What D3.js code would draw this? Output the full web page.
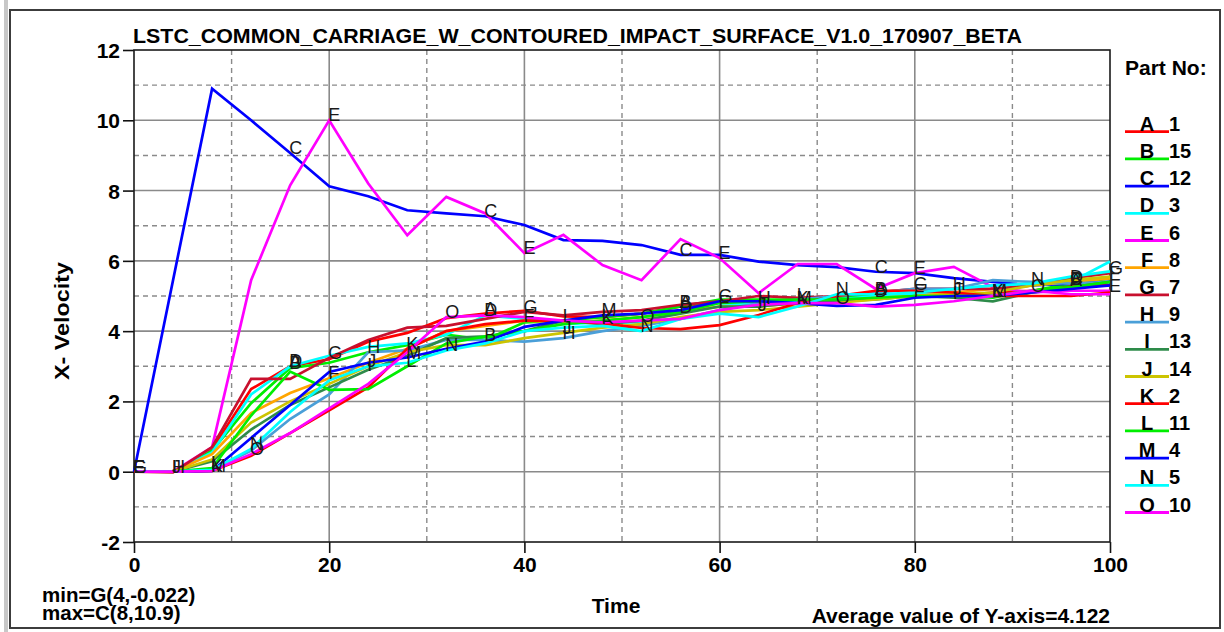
<!DOCTYPE html>
<html>
<head>
<meta charset="utf-8">
<script src="https://cdn.jsdelivr.net/npm/d3@7"></script>
<style>
  html, body { margin: 0; padding: 0; background: #ffffff; }
  svg { display: block; }
  text { font-family: "Liberation Sans", Arial, sans-serif; }
</style>
</head>
<body>
<svg id="chart" width="1224" height="632"></svg>
<script>
// Sample times (ms)
const times = [0,4,8,12,16,20,24,28,32,36,40,44,48,52,56,60,64,68,72,76,80,84,88,92,96,100];

// Curve letters and part numbers
const letters = ["A","B","C","D","E","F","G","H","I","J","K","L","M","N","O"];
const partNos = ["1","15","12","3","6","8","7","9","13","14","2","11","4","5","10"];
const colors  = ["#ff0000","#00ee00","#0000ff","#00ffff","#ff00ff","#ffa500","#c8102e",
                 "#4a9fd8","#2e8b4a","#ccc400","#ff0000","#00ee00","#0000ff","#00ffff","#ff00ff"];

// X-velocity per part
const velA = [0,0,0.65,2.35,3.0,3.2,3.7,3.95,4.37,4.5,4.58,4.42,4.4,4.5,4.7,4.85,4.85,4.9,4.85,5.05,5.05,5.0,5.1,5.15,5.3,5.3];
const velB = [0,0,0.6,1.95,2.95,3.1,3.4,3.6,3.9,3.75,4.25,4.3,4.4,4.5,4.7,4.9,4.9,4.9,4.95,5.05,5.05,5.0,4.95,5.15,5.35,5.5];
const velC = [0,5.45,10.9,10.0,9.07,8.12,7.84,7.44,7.35,7.27,7.02,6.59,6.57,6.45,6.17,6.17,5.98,5.88,5.82,5.69,5.65,5.51,5.4,5.3,5.35,5.4];
const velD = [0,0,0.55,2.2,3.0,3.3,3.55,3.65,3.9,4.45,4.35,4.2,4.25,4.25,4.55,4.8,4.75,4.85,4.9,5.0,5.05,5.2,5.3,5.3,5.4,5.98];
const velE = [0,0,0.7,5.45,8.15,10.0,8.2,6.73,7.82,7.35,6.22,6.74,5.88,5.45,6.62,6.08,5.08,5.91,5.91,5.2,5.65,5.83,5.25,5.1,5.15,5.15];
const velF = [0,0,0.5,1.67,2.24,2.66,3.1,3.5,4.0,4.15,4.3,4.25,4.3,4.4,4.55,4.7,4.7,4.8,4.85,4.95,5.0,5.1,5.2,5.3,5.4,5.5];
const velG = [0,-0.022,0.7,2.64,2.64,3.24,3.75,4.1,4.15,4.35,4.55,4.45,4.55,4.6,4.75,4.85,5.0,4.95,5.0,5.1,5.2,5.2,5.2,5.3,5.5,5.65];
const velH = [0,0,0.05,0.6,1.5,2.2,3.4,3.45,3.75,3.75,3.7,3.8,4.0,4.15,4.35,4.6,4.8,4.9,5.0,5.1,5.2,5.2,5.45,5.4,5.35,5.4];
const velI = [0,0,0.3,1.2,1.9,2.4,2.9,3.3,3.8,3.85,4.0,4.3,4.2,4.3,4.5,4.7,4.7,4.8,4.85,4.9,5.0,4.95,4.85,5.1,5.25,5.4];
const velJ = [0,0,0.35,1.4,2.0,2.5,3.0,3.4,3.6,3.6,3.8,3.95,4.1,4.2,4.4,4.55,4.6,4.7,4.8,4.9,5.0,5.05,5.1,5.3,5.45,5.55];
const velK = [0,0,0.02,0.45,1.1,1.75,2.4,3.5,4.0,4.2,4.3,4.3,4.22,4.09,4.06,4.17,4.46,4.8,5.0,5.15,5.15,5.1,5.0,5.0,5.0,5.1];
const velL = [0,0,0.1,1.6,2.85,2.33,2.35,3.0,3.65,3.85,4.0,4.2,4.3,4.4,4.55,4.8,4.85,4.9,4.9,4.95,5.0,5.0,5.0,5.15,5.25,5.4];
const velM = [0,0,0.02,0.96,1.9,2.84,3.1,3.25,3.5,3.7,4.12,4.3,4.45,4.5,4.6,4.85,4.85,4.8,4.72,4.75,4.95,5.0,5.0,5.1,5.2,5.3];
const velN = [0,0,0.05,0.65,1.7,2.6,3.0,3.1,3.45,3.65,4.0,4.1,4.15,4.0,4.35,4.5,4.4,4.7,5.05,5.05,5.1,5.2,5.3,5.35,5.55,5.7];
const velO = [0,0,0.02,0.5,1.1,1.8,2.5,3.4,4.4,4.45,4.4,4.3,4.25,4.3,4.35,4.6,4.75,4.8,4.8,4.7,4.75,4.85,5.0,5.15,5.05,5.05];

const series = [velA,velB,velC,velD,velE,velF,velG,velH,velI,velJ,velK,velL,velM,velN,velO];

// Axis ticks
const xMajor = [0,20,40,60,80,100];
const xMinor = [10,30,50,70,90];
const yMajor = [-2,0,2,4,6,8,10,12];
const yMinor = [-1,1,3,5,7,9,11];

const titleText = "LSTC_COMMON_CARRIAGE_W_CONTOURED_IMPACT_SURFACE_V1.0_170907_BETA";

const svg = d3.select("#chart");

// Window frame
svg.append("rect").attr("x", 4).attr("y", 0).attr("width", 4).attr("height", 632).attr("fill", "#c8c8c8");
svg.append("rect").attr("x", 10).attr("y", 10).attr("width", 1210).attr("height", 618)
  .attr("fill", "#ffffff").attr("stroke", "#3c3c3c").attr("stroke-width", 2);

const plotL = 134, plotR = 1110, plotT = 50, plotB = 542;
const x = d3.scaleLinear().domain([0, 100]).range([plotL, plotR]);
const y = d3.scaleLinear().domain([-2, 12]).range([plotB, plotT]);

const grid = svg.append("g");
// Dashed grid at odd positions
grid.selectAll("line.vx").data(xMinor).join("line")
  .attr("x1", d => x(d)).attr("x2", d => x(d)).attr("y1", plotT).attr("y2", plotB)
  .attr("stroke", "#8a8a8a").attr("stroke-width", 1.4).attr("stroke-dasharray", "5,4");
grid.selectAll("line.hy").data(yMinor).join("line")
  .attr("x1", plotL).attr("x2", plotR).attr("y1", d => y(d)).attr("y2", d => y(d))
  .attr("stroke", "#8a8a8a").attr("stroke-width", 1.4).attr("stroke-dasharray", "5,4");
// Solid grid at major positions
grid.selectAll("line.mx").data(xMajor.slice(1, -1)).join("line")
  .attr("x1", d => x(d)).attr("x2", d => x(d)).attr("y1", plotT).attr("y2", plotB)
  .attr("stroke", "#8a8a8a").attr("stroke-width", 1.6);
grid.selectAll("line.my").data(yMajor.slice(1, -1)).join("line")
  .attr("x1", plotL).attr("x2", plotR).attr("y1", d => y(d)).attr("y2", d => y(d))
  .attr("stroke", "#8a8a8a").attr("stroke-width", 1.6);

// Axes with outward major ticks
const xAxis = d3.axisBottom(x).tickValues(xMajor).tickSize(11).tickPadding(4).tickFormat(d => String(d));
const yAxis = d3.axisLeft(y).tickValues(yMajor).tickSize(11).tickPadding(3).tickFormat(d => String(d));
const gx = svg.append("g").attr("transform", `translate(0,${plotB})`).call(xAxis);
const gy = svg.append("g").attr("transform", `translate(${plotL},0)`).call(yAxis);
[gx, gy].forEach(g => {
  g.select(".domain").remove();
  g.selectAll(".tick line").attr("stroke", "#111").attr("stroke-width", 1.6);
  g.selectAll(".tick text").attr("fill", "#000").style("font-size", "21px").style("font-weight", "bold")
    .style("font-family", '"Liberation Sans", Arial, sans-serif');
});
gy.selectAll(".tick text").attr("dy", "0.36em");

// Plot frame
svg.append("rect").attr("x", plotL).attr("y", plotT).attr("width", plotR - plotL).attr("height", plotB - plotT)
  .attr("fill", "none").attr("stroke", "#1a1a1a").attr("stroke-width", 1.6);

// Curves
const line = d3.line().x((d, i) => x(times[i])).y(d => y(d));
const curves = svg.append("g");
series.forEach((vals, i) => {
  curves.append("path").datum(vals).attr("d", line)
    .attr("fill", "none").attr("stroke", colors[i]).attr("stroke-width", 2.7)
    .attr("stroke-linejoin", "miter");
});

// Curve letters every 20 ms, staggered per curve
const labels = svg.append("g");
series.forEach((vals, i) => {
  const start = i < 4 ? 16 : 4 * Math.floor((i - 4) / 3);
  for (let t = start; t <= 100; t += 20) {
    const k = times.indexOf(t);
    labels.append("text").attr("x", x(t) - 1).attr("y", y(vals[k]) + 1)
      .attr("fill", "#1a1a1a").style("font-size", "18px").text(letters[i]);
  }
});

// Title
svg.append("text").attr("x", 133).attr("y", 43).attr("textLength", 889).attr("lengthAdjust", "spacingAndGlyphs")
  .style("font-size", "21px").style("font-weight", "bold").attr("fill", "#000").text(titleText);

// Axis titles
svg.append("text").attr("transform", "translate(69,321) rotate(-90)").attr("text-anchor", "middle")
  .attr("textLength", 118).attr("lengthAdjust", "spacingAndGlyphs")
  .style("font-size", "21px").style("font-weight", "bold").text("X- Velocity");
svg.append("text").attr("x", 616).attr("y", 613).attr("text-anchor", "middle")
  .style("font-size", "21px").style("font-weight", "bold").text("Time");

// Extremes and average
svg.append("text").attr("x", 42).attr("y", 602).style("font-size", "20.5px").style("font-weight", "bold").text("min=G(4,-0.022)");
svg.append("text").attr("x", 42).attr("y", 620).style("font-size", "20.5px").style("font-weight", "bold").text("max=C(8,10.9)");
svg.append("text").attr("x", 1110).attr("y", 623).attr("text-anchor", "end")
  .style("font-size", "21px").style("font-weight", "bold").text("Average value of Y-axis=4.122");

// Legend
const legend = svg.append("g");
legend.append("text").attr("x", 1125).attr("y", 75).style("font-size", "21px").style("font-weight", "bold").text("Part No:");
letters.forEach((L, i) => {
  const yy = 131.7 + i * 27.2;
  legend.append("line").attr("x1", 1125).attr("x2", 1169).attr("y1", yy).attr("y2", yy)
    .attr("stroke", colors[i]).attr("stroke-width", 2.8);
  legend.append("text").attr("x", 1147).attr("y", yy - 1).attr("text-anchor", "middle")
    .style("font-size", "20px").style("font-weight", "bold").text(L);
  legend.append("text").attr("x", 1169).attr("y", yy - 1)
    .style("font-size", "20px").style("font-weight", "bold").text(partNos[i]);
});
</script>
</body>
</html>
